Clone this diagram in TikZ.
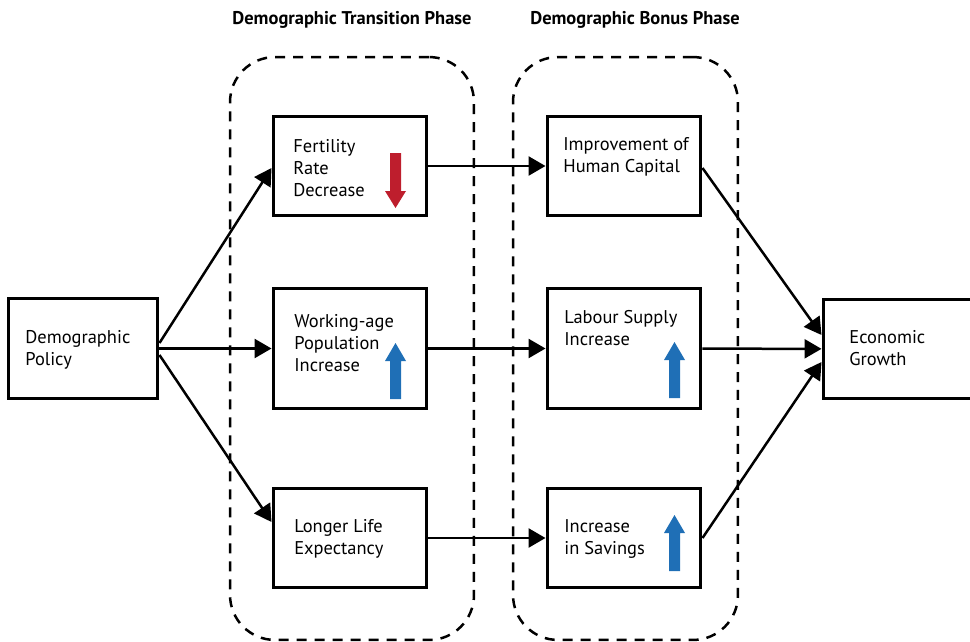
\documentclass[tikz,border=0pt]{standalone}
\usepackage{fontspec}
\setmainfont{PT Sans}
\usetikzlibrary{arrows.meta}

\definecolor{downred}{RGB}{190,30,45}
\definecolor{upblue}{RGB}{31,111,182}

\tikzset{
  stepbox/.style = {rectangle, draw, line width=0.06cm, inner sep=0pt,
                    minimum width=3.08cm, minimum height=2cm},
  phasebox/.style = {rectangle, draw, dashed, line width=0.05cm,
                     dash pattern=on 0.2cm off 0.16cm, rounded corners=0.9cm,
                     inner sep=0pt, minimum width=4.88cm, minimum height=11.66cm},
  lbl/.style = {anchor=north west, align=left, inner sep=0pt,
                font=\fontsize{10.5}{12.5}\selectfont},
  ttl/.style = {inner sep=0pt, font=\fontsize{10.5}{12.5}\selectfont\bfseries},
}

\begin{document}
\begin{tikzpicture}[->,>={Triangle[length=0.34cm,width=0.38cm]},
                    x=0.02cm, y=-0.02cm]

    \useasboundingbox (0,0) rectangle (970,642);

    % phases
    \node[phasebox] (trans) at (352,348.5) {};
    \node[phasebox, minimum width=4.5cm] (bonus) at (625.5,348.5) {};
    \node[ttl] (transT) at (352,20) {Demographic Transition Phase};
    \node[ttl] (bonusT) at (635,20) {Demographic Bonus Phase};

    % policy and growth
    \node[stepbox, minimum width=3cm] (policy) at (83,348.5) {};
    \node[lbl] (policyT) at (25,327.5) {\strut Demographic\\Policy};

    \node[stepbox, minimum width=3.2cm] (econ) at (903,349) {};
    \node[lbl] (econT) at (849,327.5) {\strut Economic\\Growth};

    % transition phase
    \node[stepbox] (fert) at (350,166) {};
    \node[lbl] (fertT) at (293,136.5) {\strut Fertility\\Rate\\Decrease};

    \node[stepbox, minimum height=2.42cm] (work) at (350,348.5) {};
    \node[lbl] (workT) at (294,311.5) {\strut Working-age\\Population\\Increase};

    \node[stepbox] (life) at (350,538) {};
    \node[lbl] (lifeT) at (294,516.5) {\strut Longer Life\\Expectancy};

    % bonus phase
    \node[stepbox] (human) at (624,166) {};
    \node[lbl] (humanT) at (563,134.5) {\strut Improvement of\\Human Capital};

    \node[stepbox, minimum height=2.42cm] (labour) at (624,348.5) {};
    \node[lbl] (labourT) at (564,307.5) {\strut Labour Supply\\Increase};

    \node[stepbox] (save) at (624,538) {};
    \node[lbl] (saveT) at (564,516.5) {\strut Increase\\in Savings};

    % trend arrows
    \fill[downred] (390,153) -- (401,153) -- (401,191) -- (406,191)
        -- (395.5,208) -- (385,191) -- (390,191) -- cycle;
    \foreach \ax/\ay in {395.5/343, 674.5/342, 674.5/515}
        \fill[upblue] (\ax-5.5,\ay+56) -- (\ax-5.5,\ay+18) -- (\ax-10.5,\ay+18)
            -- (\ax,\ay) -- (\ax+10.5,\ay+18) -- (\ax+5.5,\ay+18)
            -- (\ax+5.5,\ay+56) -- cycle;

    \path[line width=0.05cm]
    % policy paths
    ([yshift=0.11cm]policy.east) edge [] ([yshift=-0.04cm]fert.west)
    (policy.east) edge [] (work.west)
    ([yshift=-0.13cm]policy.east) edge [] ([yshift=0.32cm]life.west)
    % phase to phase
    (fert) edge [] (human)
    (work) edge [] (labour)
    (life) edge [] (save)
    % to growth
    ([yshift=-0.04cm]human.east) edge [] ([yshift=0.28cm]econ.west)
    (labour) edge [] (econ)
    (save.east) edge [] ([yshift=-0.26cm]econ.west);

\end{tikzpicture}
\end{document}
